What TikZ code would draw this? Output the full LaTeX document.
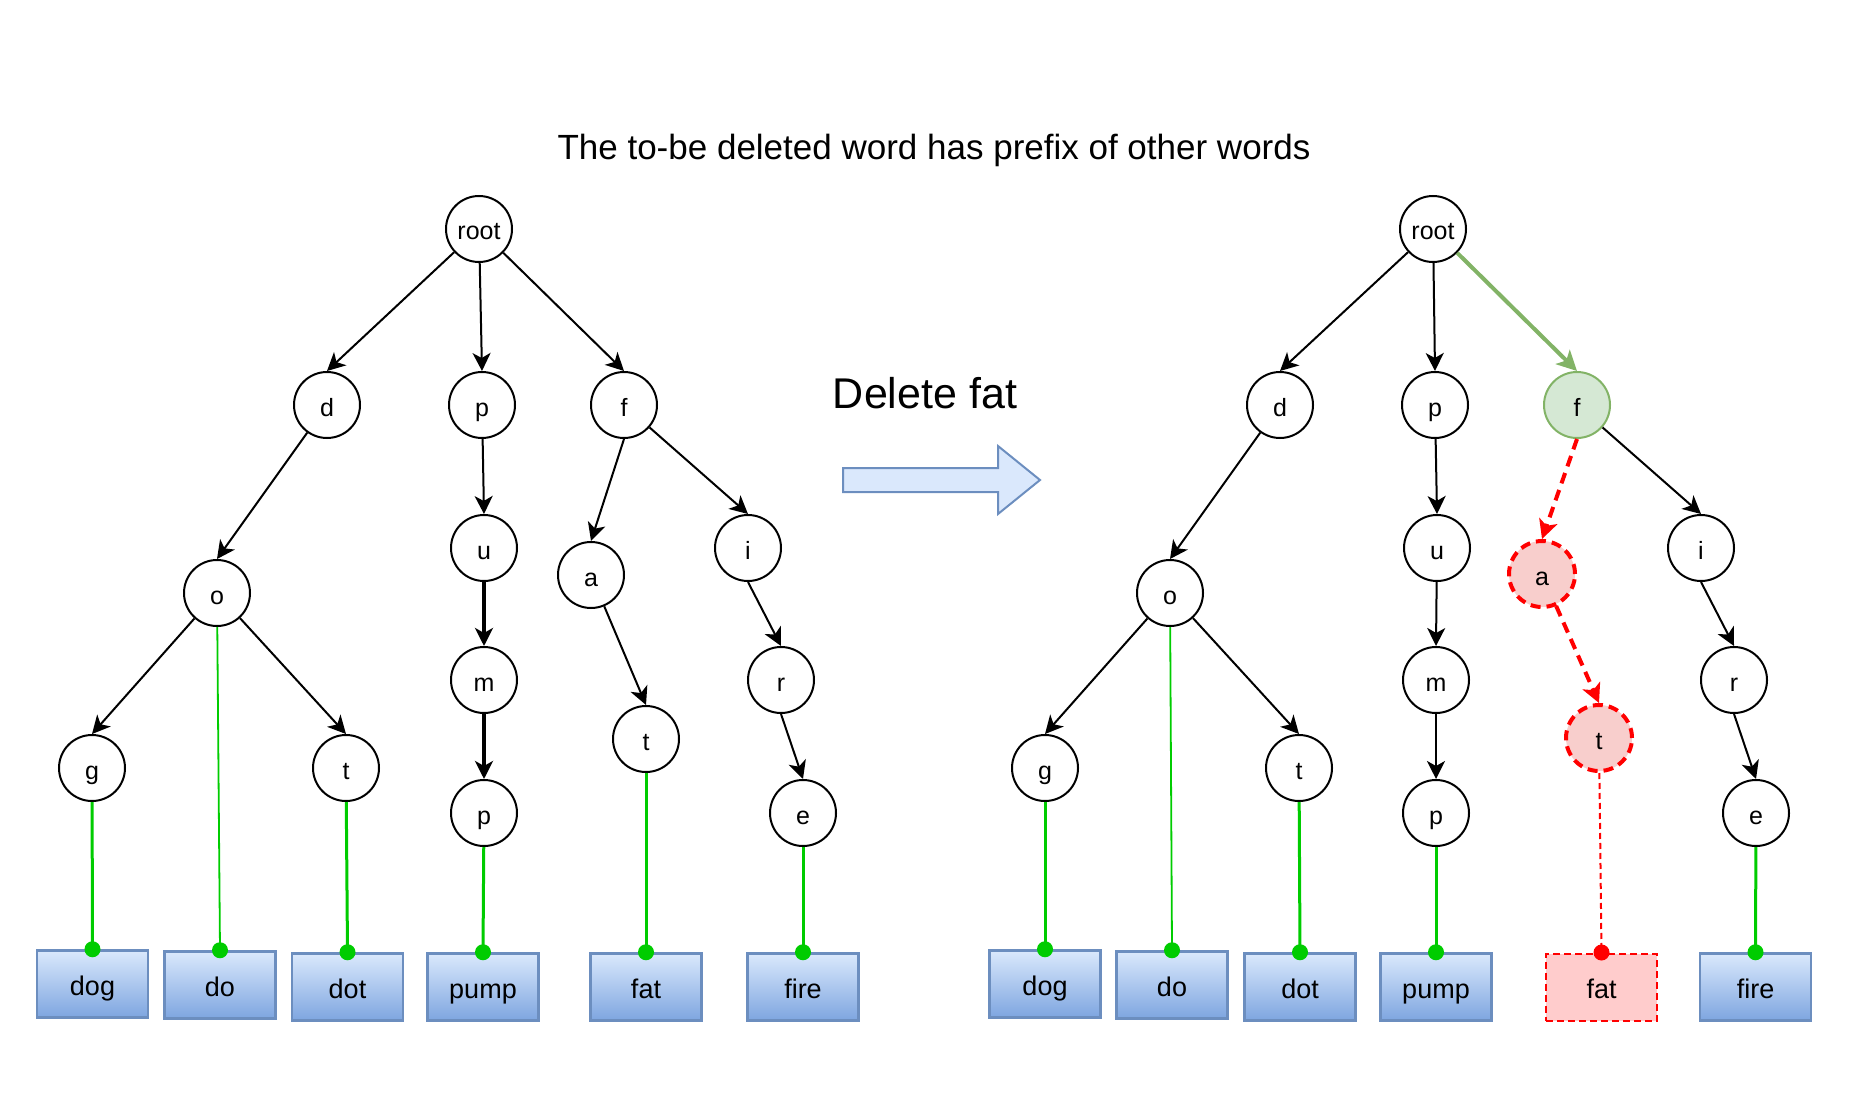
\documentclass[tikz,border=0pt]{standalone}
\usepackage{fontspec}
\setmainfont{Liberation Sans}
\usetikzlibrary{arrows.meta}
\definecolor{gtop}{HTML}{DAE8FC}
\definecolor{gbot}{HTML}{7EA6E0}
\definecolor{boxblue}{HTML}{6C8EBF}
\definecolor{leafgreen}{HTML}{00CC00}
\definecolor{delred}{HTML}{FF0000}
\definecolor{delfill}{HTML}{F8CECC}
\definecolor{fatfill}{HTML}{FFCCCC}
\definecolor{keepfill}{HTML}{D5E8D4}
\definecolor{keepline}{HTML}{82B366}
\tikzset{
  tnode/.style={circle, draw=black, fill=white, line width=2pt, minimum size=66pt, inner sep=0pt, text height=22pt, text depth=0pt, font=\fontsize{25}{29}\selectfont},
  word/.style={rectangle, draw=boxblue, line width=2.5pt, top color=gtop, bottom color=gbot, minimum width=111pt, minimum height=67pt, inner sep=0pt, text height=22pt, text depth=0pt, font=\fontsize{27}{31}\selectfont},
  edge/.style={line width=2pt, -{Stealth[length=18pt,width=18pt,inset=5pt]}},
  thickedge/.style={line width=4pt, -{Stealth[length=18pt,width=18pt,inset=5pt]}},
  leaf/.style={draw=leafgreen, line width=3pt},
  thinleaf/.style={draw=leafgreen, line width=1.8pt},
  leafdot/.style={fill=leafgreen},
  delnode/.style={tnode, draw=delred, fill=delfill, line width=4pt, dash pattern=on 10pt off 6pt},
  deledge/.style={draw=delred, line width=4pt, dash pattern=on 11pt off 7pt, -{Stealth[length=19pt,width=19pt,inset=5pt,fill=delred]}},
  delleaf/.style={draw=delred, line width=2pt, dash pattern=on 6pt off 4pt},
  delword/.style={rectangle, draw=delred, fill=fatfill, line width=2pt, dash pattern=on 7pt off 4pt, minimum width=111pt, minimum height=67pt, inner sep=0pt, text height=22pt, text depth=0pt, font=\fontsize{27}{31}\selectfont},
  keepnode/.style={tnode, draw=keepline, fill=keepfill},
  keepedge/.style={draw=keepline, line width=4pt, -{Stealth[length=20pt,width=20pt,inset=5pt,fill=keepline]}},
}
\begin{document}
\begin{tikzpicture}[x=1pt, y=-1pt]
\useasboundingbox (0,0) rectangle (1852,1110);

\node[font=\fontsize{35}{40}\selectfont] (title) at (934,150) {The to-be deleted word has prefix of other words};
\node[font=\fontsize{43}{48}\selectfont] (action) at (925,393) {Delete fat};
\draw[draw=boxblue, fill=gtop, line width=2pt, line join=miter]
  (843,468) -- (998,468) -- (998,446) -- (1040,480) -- (998,514) -- (998,492) -- (843,492) -- cycle;

% ---------- left tree ----------
\node[tnode] (Lroot) at (479,229) {root};
\node[tnode] (Ld) at (327,405) {d};
\node[tnode] (Lp) at (482,405) {p};
\node[tnode] (Lf) at (624,405) {f};
\node[tnode] (Lo) at (217,593) {o};
\node[tnode] (Lu) at (484,548) {u};
\node[tnode] (Lm) at (484,680) {m};
\node[tnode] (Lpp) at (484,813) {p};
\node[tnode] (La) at (591,575) {a};
\node[tnode] (Lta) at (646,739) {t};
\node[tnode] (Li) at (748,548) {i};
\node[tnode] (Lr) at (781,680) {r};
\node[tnode] (Le) at (803,813) {e};
\node[tnode] (Lg) at (92,768) {g};
\node[tnode] (Lto) at (346,768) {t};

\node[word] (Ldog) at (92.5,984) {dog};
\node[word] (Ldo) at (220,985) {do};
\node[word] (Ldot) at (347.5,987) {dot};
\node[word] (Lpump) at (483,987) {pump};
\node[word] (Lfat) at (646,987) {fat};
\node[word] (Lfire) at (803,987) {fire};

\draw[edge] (Lroot) -- (Ld.north);
\draw[edge] (Lroot) -- (Lp.north);
\draw[edge] (Lroot) -- (Lf.north);
\draw[edge] (Ld) -- (Lo.north);
\draw[edge] (Lo) -- (Lg.north);
\draw[edge] (Lo) -- (Lto.north);
\draw[edge] (Lp) -- (Lu.north);
\draw[thickedge] (Lu) -- (Lm.north);
\draw[thickedge] (Lm) -- (Lpp.north);
\draw[edge] (Lf.south) -- (La.north);
\draw[edge] (Lf) -- (Li.north);
\draw[edge] (La) -- (Lta.north);
\draw[edge] (Li.south) -- (Lr.north);
\draw[edge] (Lr.south) -- (Le.north);

\draw[leaf] (Lg) -- (Ldog.north);
\draw[thinleaf] (Lo) -- (Ldo.north);
\draw[leaf] (Lto) -- (Ldot.north);
\draw[leaf] (Lpp) -- (Lpump.north);
\draw[leaf] (Lta) -- (Lfat.north);
\draw[leaf] (Le) -- (Lfire.north);
\foreach \w in {Ldog,Ldo,Ldot,Lpump,Lfat,Lfire}
  \fill[leafdot] (\w.north) circle (8pt);

% ---------- right tree ----------
\node[tnode] (Rroot) at (1433,229) {root};
\node[tnode] (Rd) at (1280,405) {d};
\node[tnode] (Rp) at (1435,405) {p};
\node[keepnode] (Rf) at (1577,405) {f};
\node[tnode] (Ro) at (1170,593) {o};
\node[tnode] (Ru) at (1437,548) {u};
\node[tnode] (Rm) at (1436,680) {m};
\node[tnode] (Rpp) at (1436,813) {p};
\node[delnode] (Ra) at (1542,574) {a};
\node[delnode] (Rta) at (1599,738) {t};
\node[tnode] (Ri) at (1701,548) {i};
\node[tnode] (Rr) at (1734,680) {r};
\node[tnode] (Re) at (1756,813) {e};
\node[tnode] (Rg) at (1045,768) {g};
\node[tnode] (Rto) at (1299,768) {t};

\node[word] (Rdog) at (1045,984) {dog};
\node[word] (Rdo) at (1172,985) {do};
\node[word] (Rdot) at (1300,987) {dot};
\node[word] (Rpump) at (1436,987) {pump};
\node[delword] (Rfat) at (1601.5,987) {fat};
\node[word] (Rfire) at (1755.5,987) {fire};

\draw[edge] (Rroot) -- (Rd.north);
\draw[edge] (Rroot) -- (Rp.north);
\draw[keepedge] (Rroot) -- (Rf.north);
\draw[edge] (Rd) -- (Ro.north);
\draw[edge] (Ro) -- (Rg.north);
\draw[edge] (Ro) -- (Rto.north);
\draw[edge] (Rp) -- (Ru.north);
\draw[edge] (Ru) -- (Rm.north);
\draw[edge] (Rm) -- (Rpp.north);
\draw[deledge] (Rf.south) -- (Ra.north);
\draw[edge] (Rf) -- (Ri.north);
\draw[deledge] (Ra) -- (Rta.north);
\draw[edge] (Ri.south) -- (Rr.north);
\draw[edge] (Rr.south) -- (Re.north);

\draw[leaf] (Rg) -- (Rdog.north);
\draw[thinleaf] (Ro) -- (Rdo.north);
\draw[leaf] (Rto) -- (Rdot.north);
\draw[leaf] (Rpp) -- (Rpump.north);
\draw[delleaf] (Rta) -- (Rfat.north);
\draw[leaf] (Re) -- (Rfire.north);
\foreach \w in {Rdog,Rdo,Rdot,Rpump,Rfire}
  \fill[leafdot] (\w.north) circle (8pt);
\fill[delred] (Rfat.north) circle (8pt);
\end{tikzpicture}
\end{document}
